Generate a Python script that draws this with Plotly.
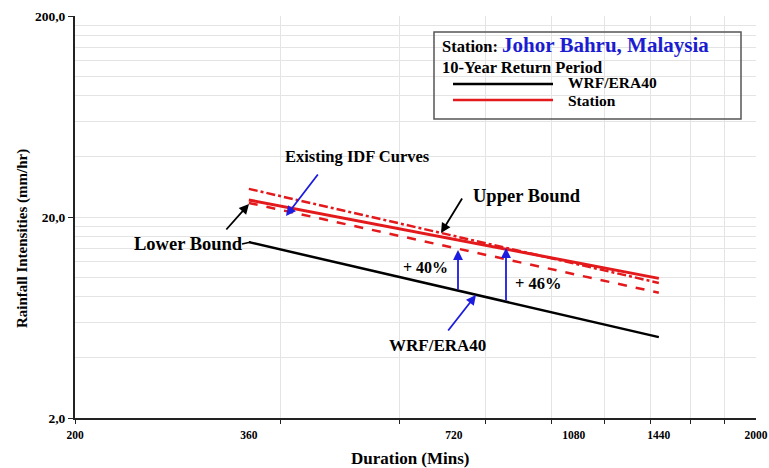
import plotly.graph_objects as go

# ---- data ----
durations = [360, 720, 1080, 1440]
wrf_era40 = [15.0, 8.7, 6.3, 5.05]
station = [24.3, 15.5, 11.9, 9.9]
upper_bound = [27.6, 16.1, 11.7, 9.4]
lower_bound = [23.5, 14.0, 10.4, 8.4]

x_tick_vals = [200, 360, 720, 1080, 1440, 2000]
x_tick_text = ["200", "360", "720", "1080", "1440", "2000"]
x_minor_vals = [200, 400, 600, 800, 1000, 1200, 1400, 1600, 1800]
y_tick_vals = [2, 20, 200]
y_tick_text = ["2,0", "20,0", "200,0"]
y_minor_vals = [4, 6, 8, 10, 12, 14, 16, 18, 40, 60, 80, 100, 120, 140, 160, 180]

W, H = 769, 468
L, R, T, B = 75, 13, 16, 50
PW, PH = W - L - R, H - T - B

def px(x):
    return (x - L) / PW

def py(y):
    return (H - B - y) / PH

FONT = "Liberation Serif, Times New Roman, serif"
RED = "#e3191c"
BLUE = "#1c1ce0"

fig = go.Figure()
fig.add_trace(go.Scatter(x=durations, y=wrf_era40, mode="lines", name="WRF/ERA40",
                         line=dict(color="black", width=2.5), showlegend=False))
fig.add_trace(go.Scatter(x=durations, y=upper_bound, mode="lines", name="Upper Bound",
                         line=dict(color=RED, width=2.5, dash="dashdot"), showlegend=False))
fig.add_trace(go.Scatter(x=durations, y=lower_bound, mode="lines", name="Lower Bound",
                         line=dict(color=RED, width=2.5, dash="dash"), showlegend=False))
fig.add_trace(go.Scatter(x=durations, y=station, mode="lines", name="Station",
                         line=dict(color=RED, width=3), showlegend=False))

fig.update_layout(
    width=W, height=H,
    margin=dict(l=L, r=R, t=T, b=B, autoexpand=False),
    paper_bgcolor="white", plot_bgcolor="white",
    font=dict(family=FONT, color="black", size=11),
    xaxis=dict(type="log", range=[2.30103, 3.30103], automargin=False,
               tickvals=x_tick_vals, ticktext=["<b>%s</b>" % t for t in x_tick_text],
               ticks="", ticklabelstandoff=5, showgrid=False, zeroline=False,
               showline=True, linecolor="#222", linewidth=2,
               tickfont=dict(size=11.5, family=FONT),
               minor=dict(tickvals=x_minor_vals, ticks="outside", ticklen=4,
                          tickcolor="#222", showgrid=True, gridcolor="#e4e4e4", gridwidth=1)),
    yaxis=dict(type="log", range=[0.30103, 2.30103], automargin=False,
               tickvals=y_tick_vals, ticktext=["<b>%s</b>" % t for t in y_tick_text],
               ticks="outside", ticklen=5, tickcolor="#222",
               showgrid=True, gridcolor="#e4e4e4", zeroline=False,
               showline=True, linecolor="#222", linewidth=2,
               tickfont=dict(size=13.5, family=FONT),
               minor=dict(tickvals=y_minor_vals, ticks="", showgrid=True,
                          gridcolor="#e4e4e4", gridwidth=1)),
)

ann = []

def label(x, y, text, size, xanchor="center", angle=0):
    ann.append(dict(x=px(x), y=py(y), xref="paper", yref="paper",
                    xanchor=xanchor, yanchor="middle", textangle=angle,
                    text=text, showarrow=False, font=dict(size=size, family=FONT)))

# axis titles
label(22, 239, "<b>Rainfall Intensities (mm/hr)</b>", 15, angle=-90)
label(410, 458, "<b>Duration (Mins)</b>", 17)

# legend box texts
label(440, 45, "<b>Station: <span style='color:#1c1cd0;font-size:21px'>Johor Bahru, Malaysia</span></b>",
      16.5, xanchor="left")
label(440, 67, "<b>10-Year Return Period</b>", 16.5, xanchor="left")
label(566, 83, "<b>WRF/ERA40</b>", 15.5, xanchor="left")
label(566, 101, "<b>Station</b>", 15.5, xanchor="left")

# chart labels
label(357, 156, "<b>Existing IDF Curves</b>", 16.5)
label(188, 244, "<b>Lower Bound</b>", 18.5)
label(527, 196, "<b>Upper Bound</b>", 18.5)
label(425, 267, "<b>+ 40%</b>", 16)
label(538, 283, "<b>+ 46%</b>", 16.5)
label(437, 345, "<b>WRF/ERA40</b>", 17)

# arrows: (head_x, head_y, tail_x, tail_y, color)
arrows = [
    (286, 216, 319, 173, BLUE),
    (249, 204, 225, 231, "black"),
    (441, 233, 463, 197, "black"),
    (458, 250, 458, 291, BLUE),
    (506, 248, 506, 302, BLUE),
    (476, 295, 447, 332, BLUE),
]
for hx, hy, tx, ty, c in arrows:
    ann.append(dict(x=px(hx), y=py(hy), xref="paper", yref="paper",
                    ax=tx - hx, ay=ty - hy, axref="pixel", ayref="pixel",
                    text="", showarrow=True, arrowhead=2, arrowsize=1.1,
                    arrowwidth=1.8, arrowcolor=c))
fig.update_layout(annotations=ann)

shapes = [
    dict(type="rect", xref="paper", yref="paper", x0=px(434), x1=px(741), y0=py(119), y1=py(32),
         line=dict(color="#555", width=1.5), fillcolor="rgba(0,0,0,0)"),
    dict(type="line", xref="paper", yref="paper", x0=px(453), x1=px(553), y0=py(84), y1=py(84),
         line=dict(color="black", width=2.5)),
    dict(type="line", xref="paper", yref="paper", x0=px(453), x1=px(553), y0=py(100), y1=py(100),
         line=dict(color=RED, width=2.5)),
    # connector from "Lower Bound" label to WRF line start
    dict(type="line", xref="paper", yref="paper", x0=px(242), x1=px(251), y0=py(244), y1=py(242),
         line=dict(color="black", width=1.5)),
]
fig.update_layout(shapes=shapes)

fig.write_html("out.html", config={"displayModeBar": False},
               post_script="document.body.style.margin='0';document.body.style.overflow='hidden';")
